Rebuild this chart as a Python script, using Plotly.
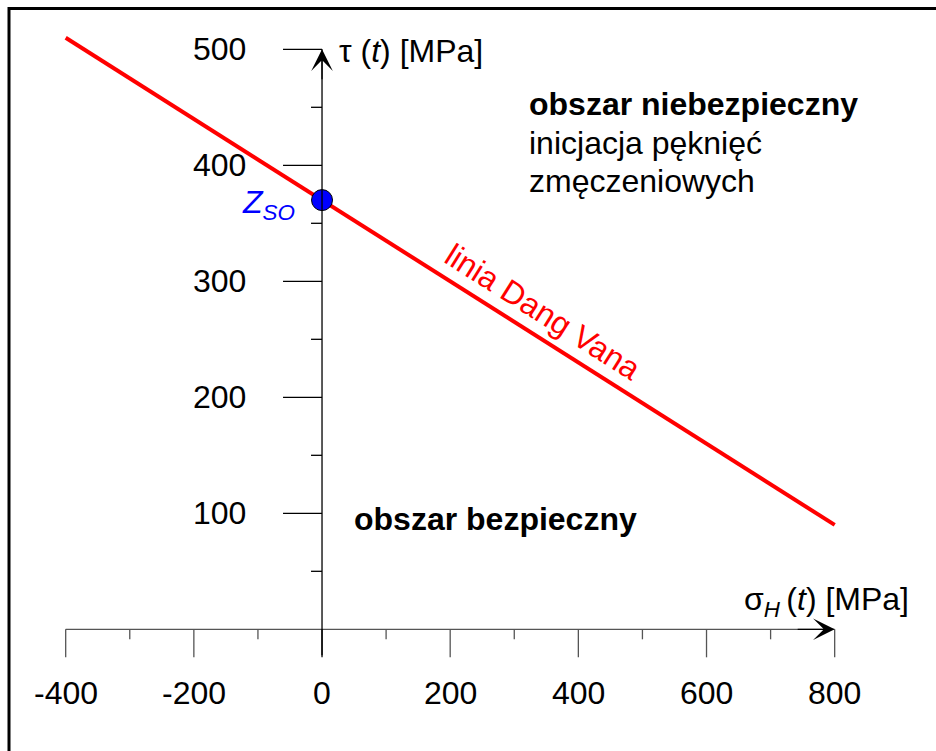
import plotly.graph_objects as go

# ---- data ----
dv_sigma = [-400, 800]          # Dang Van line, sigma_H [MPa]
dv_tau = [510, 90]              # Dang Van line, tau [MPa]
zso_sigma = [0]
zso_tau = [370]
x_major = [-400, -200, 0, 200, 400, 600, 800]
x_minor = [-300, -100, 100, 300, 500, 700]
x_labels = ["-400", "-200", "0", "200", "400", "600", "800"]
y_major = [100, 200, 300, 400, 500]
y_minor = [50, 150, 250, 350, 450]
y_labels = ["100", "200", "300", "400", "500"]

W, H = 936, 751
XR = [-502.5, 958.1]
YR = [-104.9, 542.5]
XPP = (XR[1] - XR[0]) / W
YPP = (YR[1] - YR[0]) / H


def X(px):
    return XR[0] + px * XPP


def Y(py):
    return YR[1] - py * YPP


FONT = "Liberation Sans, Arial, sans-serif"
FS = 32

fig = go.Figure()
fig.add_trace(go.Scatter(x=dv_sigma, y=dv_tau, mode="lines",
                         line=dict(color="#ff0000", width=4), hoverinfo="skip"))
fig.add_trace(go.Scatter(x=zso_sigma, y=zso_tau, mode="markers",
                         marker=dict(size=21, color="#0000ff",
                                     line=dict(color="black", width=1)),
                         hoverinfo="skip"))

shapes = []
AX_GRAY = "#555555"
# x axis line
shapes.append(dict(type="line", xref="x", yref="y", x0=x_major[0], x1=x_major[-1],
                   y0=0, y1=0, line=dict(color=AX_GRAY, width=1.3)))
# y axis line
shapes.append(dict(type="line", xref="x", yref="y", x0=0, x1=0,
                   y0=-26 * YPP, y1=y_major[-1], line=dict(color="black", width=1.3)))
for v in x_major:
    shapes.append(dict(type="line", xref="x", yref="y", x0=v, x1=v, y0=0, y1=-28 * YPP,
                       line=dict(color=AX_GRAY if v != 0 else "black", width=1.3)))
for v in x_minor:
    shapes.append(dict(type="line", xref="x", yref="y", x0=v, x1=v, y0=0, y1=-10 * YPP,
                       line=dict(color=AX_GRAY, width=1.3)))
for v in y_major:
    shapes.append(dict(type="line", xref="x", yref="y", x0=-39 * XPP, x1=0, y0=v, y1=v,
                       line=dict(color="black", width=1.3)))
for v in y_minor:
    shapes.append(dict(type="line", xref="x", yref="y", x0=-11 * XPP, x1=0, y0=v, y1=v,
                       line=dict(color="black", width=1.3)))
# frame (top and left visible)
shapes.append(dict(type="line", xref="paper", yref="paper", x0=9 / W, x1=1,
                   y0=1 - 8.5 / H, y1=1 - 8.5 / H, line=dict(color="black", width=3)))
shapes.append(dict(type="line", xref="paper", yref="paper", x0=9 / W, x1=9 / W,
                   y0=0, y1=1 - 7 / H, line=dict(color="black", width=3)))

ann = []
tick_font = dict(family=FONT, size=FS, color="black")
for v, t in zip(x_major, x_labels):
    ann.append(dict(x=v, y=0, xref="x", yref="y", text=t, showarrow=False,
                    xanchor="center", yanchor="middle", yshift=-64, font=tick_font))
for v, t in zip(y_major, y_labels):
    ann.append(dict(x=0, y=v, xref="x", yref="y", text=t, showarrow=False,
                    xanchor="right", yanchor="middle", xshift=-74, font=tick_font))

# axis arrows
ann.append(dict(x=0, y=y_major[-1], ax=0, ay=y_major[-1] - 40 * YPP, xref="x", yref="y",
                axref="x", ayref="y", text=" ", showarrow=True, arrowhead=3,
                arrowsize=3, arrowwidth=1.2, arrowcolor="black", standoff=0))
ann.append(dict(x=x_major[-1], y=0, ax=x_major[-1] - 40 * XPP, ay=0, xref="x", yref="y",
                axref="x", ayref="y", text=" ", showarrow=True, arrowhead=3,
                arrowsize=3, arrowwidth=1.2, arrowcolor="black", standoff=0))

# axis titles
ann.append(dict(x=X(337), y=Y(51), xref="x", yref="y", showarrow=False,
                text="τ (<i>t</i>) [MPa]", xanchor="left", yanchor="middle",
                font=tick_font))
ann.append(dict(x=X(911), y=Y(601), xref="x", yref="y", showarrow=False,
                text="σ<sub><i>H</i></sub>\u2009(<i>t</i>) [MPa]", xanchor="right",
                yanchor="middle", font=tick_font))

# Z_SO label
ann.append(dict(x=zso_sigma[0], y=zso_tau[0], xref="x", yref="y", showarrow=False,
                text="<i>Z<sub>SO</sub></i>", xanchor="right", yanchor="middle",
                xshift=-25, yshift=-4, font=dict(family=FONT, size=FS, color="#0000ff")))

# region texts
ann.append(dict(x=X(527), y=Y(104), xref="x", yref="y", showarrow=False,
                text="<b>obszar niebezpieczny</b>", xanchor="left", yanchor="middle",
                font=tick_font))
ann.append(dict(x=X(527), y=Y(143), xref="x", yref="y", showarrow=False,
                text="inicjacja pęknięć", xanchor="left", yanchor="middle",
                font=tick_font))
ann.append(dict(x=X(527), y=Y(181), xref="x", yref="y", showarrow=False,
                text="zmęczeniowych", xanchor="left", yanchor="middle",
                font=tick_font))
ann.append(dict(x=X(352), y=Y(519), xref="x", yref="y", showarrow=False,
                text="<b>obszar bezpieczny</b>", xanchor="left", yanchor="middle",
                font=tick_font))
ann.append(dict(x=X(543), y=Y(312), xref="x", yref="y", showarrow=False,
                text="linia Dang Vana", textangle=32.4, xanchor="center",
                yanchor="middle", font=dict(family=FONT, size=FS, color="#ff0000")))

fig.update_layout(
    width=W, height=H, margin=dict(l=0, r=0, t=0, b=0),
    paper_bgcolor="white", plot_bgcolor="white", showlegend=False,
    xaxis=dict(range=XR, visible=False, fixedrange=True),
    yaxis=dict(range=YR, visible=False, fixedrange=True),
    shapes=shapes, annotations=ann,
)
fig.write_html("out.html")
